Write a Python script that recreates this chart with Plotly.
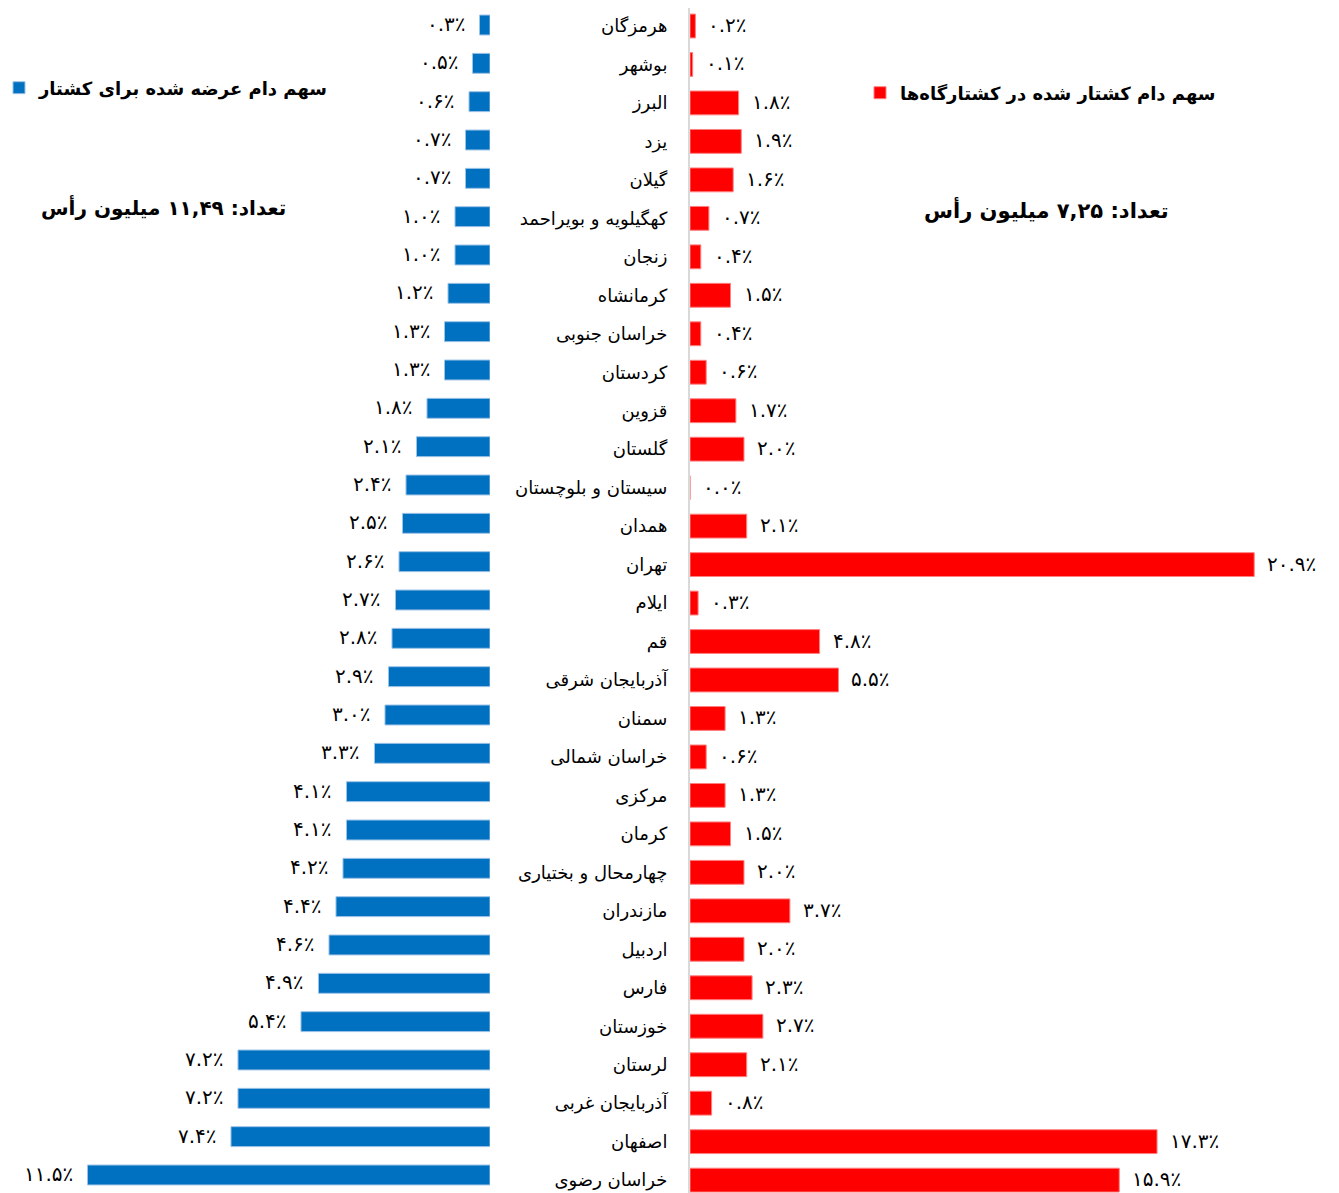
import plotly.graph_objects as go

# ---------------- data ----------------
provinces = [
    "هرمزگان", "بوشهر", "البرز", "یزد", "گیلان", "کهگیلویه و بویراحمد", "زنجان",
    "کرمانشاه", "خراسان جنوبی", "کردستان", "قزوین", "گلستان", "سیستان و بلوچستان",
    "همدان", "تهران", "ایلام", "قم", "آذربایجان شرقی", "سمنان", "خراسان شمالی",
    "مرکزی", "کرمان", "چهارمحال و بختیاری", "مازندران", "اردبیل", "فارس",
    "خوزستان", "لرستان", "آذربایجان غربی", "اصفهان", "خراسان رضوی",
]
offered_share = [
    0.3, 0.5, 0.6, 0.7, 0.7, 1.0, 1.0, 1.2, 1.3, 1.3, 1.8, 2.1, 2.4, 2.5, 2.6,
    2.7, 2.8, 2.9, 3.0, 3.3, 4.1, 4.1, 4.2, 4.4, 4.6, 4.9, 5.4, 7.2, 7.2, 7.4, 11.5,
]
slaughtered_share = [
    0.2, 0.1, 1.8, 1.9, 1.6, 0.7, 0.4, 1.5, 0.4, 0.6, 1.7, 2.0, 0.0, 2.1, 20.9,
    0.3, 4.8, 5.5, 1.3, 0.6, 1.3, 1.5, 2.0, 3.7, 2.0, 2.3, 2.7, 2.1, 0.8, 17.3, 15.9,
]
left_title = "سهم دام عرضه شده برای کشتار"
right_title = "سهم دام کشتار شده در کشتارگاه‌ها"
left_total = "تعداد: ۱۱,۴۹ میلیون رأس"
right_total = "تعداد: ۷,۲۵ میلیون رأس"

FA_DIGITS = str.maketrans("0123456789", "۰۱۲۳۴۵۶۷۸۹")


def fa_pct(v):
    return f"{v:.1f}".translate(FA_DIGITS) + "٪"


# page is 1339x1193; the html body has an 8px margin, so the figure is shrunk
OFF = 8
W, H = 1339 - OFF, 1193 - OFF


def px(x):
    return (x - OFF) / W


def py(y):
    return 1 - (y - OFF) / H


FONT = "DejaVu Sans"
BLUE = "#0070C0"
RED = "#FF0000"

fig = go.Figure()
fig.add_trace(go.Bar(
    y=provinces, x=offered_share, orientation="h", xaxis="x", yaxis="y",
    width=0.52, name=left_title, legend="legend",
    marker=dict(color=BLUE, line=dict(color="#9DC3E6", width=1)),
    hoverinfo="skip",
))
fig.add_trace(go.Bar(
    y=provinces, x=slaughtered_share, orientation="h", xaxis="x2", yaxis="y2",
    width=0.62, name=right_title, legend="legend2",
    marker=dict(color=RED, line=dict(color="#FF8080", width=1)),
    hoverinfo="skip",
))

annotations = []
for p, v in zip(provinces, offered_share):
    annotations.append(dict(
        x=v, y=p, xref="x", yref="y", text=fa_pct(v), showarrow=False,
        xanchor="right", yanchor="middle", xshift=-12, yshift=1,
        font=dict(family=FONT, size=20, color="black"),
    ))
for p, v in zip(provinces, slaughtered_share):
    annotations.append(dict(
        x=v, y=p, xref="x2", yref="y2", text=fa_pct(v), showarrow=False,
        xanchor="left", yanchor="middle", xshift=11, yshift=1,
        font=dict(family=FONT, size=20, color="black"),
    ))
annotations.append(dict(
    x=px(163), y=py(207), xref="paper", yref="paper", text=left_total,
    showarrow=False, xanchor="center", yanchor="middle",
    font=dict(family=FONT, size=20, color="black", weight="bold"),
))
annotations.append(dict(
    x=px(1046), y=py(209), xref="paper", yref="paper", text=right_total,
    showarrow=False, xanchor="center", yanchor="middle",
    font=dict(family=FONT, size=21, color="black", weight="bold"),
))

fig.update_layout(
    width=W, height=H,
    margin=dict(l=0, r=0, t=0, b=0, autoexpand=False),
    paper_bgcolor="white", plot_bgcolor="white",
    showlegend=True, hovermode=False,
    xaxis=dict(domain=[0, px(490)], range=[13.77, 0], visible=False, fixedrange=True),
    xaxis2=dict(domain=[px(690), 1], range=[0, 24.04], visible=False, fixedrange=True),
    yaxis=dict(
        anchor="x", domain=[0, 1], type="category", categoryorder="array",
        categoryarray=provinces, range=[30.47, -0.4435], visible=False,
    ),
    yaxis2=dict(
        anchor="x2", domain=[0, 1], type="category", categoryorder="array",
        categoryarray=provinces, range=[30.335, -0.468],
        showline=True, linecolor="#D9D9D9", linewidth=2, ticks="",
        showgrid=False, zeroline=False, ticklabelstandoff=17,
        tickfont=dict(family=FONT, size=18, color="black"),
    ),
    legend=dict(
        x=px(-1), y=py(88), xanchor="left", yanchor="middle",
        bgcolor="rgba(0,0,0,0)", itemclick=False, itemdoubleclick=False,
        font=dict(family=FONT, size=18, color="black", weight="bold"),
    ),
    legend2=dict(
        x=px(860), y=py(93), xanchor="left", yanchor="middle",
        bgcolor="rgba(0,0,0,0)", itemclick=False, itemdoubleclick=False,
        font=dict(family=FONT, size=18, color="black", weight="bold"),
    ),
    annotations=annotations,
)

fig.write_html("out.html")
